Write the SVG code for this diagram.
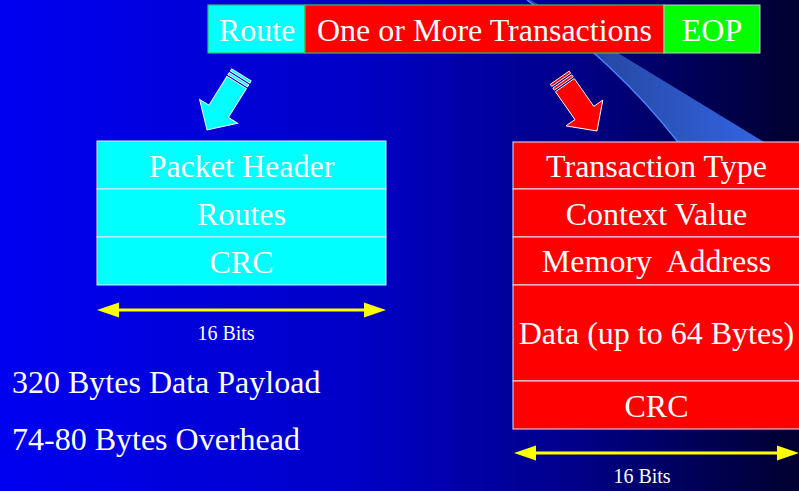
<svg xmlns="http://www.w3.org/2000/svg" width="799" height="491" viewBox="0 0 799 491">
  <defs>
    <linearGradient id="bg" x1="0" y1="0" x2="1" y2="0">
      <stop offset="0" stop-color="#0000f2"/>
      <stop offset="0.45" stop-color="#0000c6"/>
      <stop offset="0.72" stop-color="#000088"/>
      <stop offset="1" stop-color="#00002e"/>
    </linearGradient>
    <linearGradient id="beam" gradientUnits="userSpaceOnUse" x1="590" y1="0" x2="760" y2="0">
      <stop offset="0" stop-color="#2646a0"/>
      <stop offset="1" stop-color="#3264e0"/>
    </linearGradient>
    <g id="blockArrow">
      <path d="M-11.5,-56 L11.5,-56 L11.5,-22 L22.5,-22 L0,0 L-22.5,-22 L-11.5,-22 Z"/>
      <rect x="-11.5" y="-60.5" width="23" height="2.5"/>
      <rect x="-11.5" y="-65" width="23" height="2.5"/>
    </g>
  </defs>
  <style>
    text { font-family: "Liberation Serif", "Times New Roman", serif; fill: #ffffff; }
    .big { font-size: 32px; text-anchor: middle; }
    .left { font-size: 32px; }
    .small { font-size: 20px; text-anchor: middle; }
    .cyan { fill: #00ffff; }
    .red { fill: #ff0000; }
    .green { fill: #00ff00; }
    .cell { stroke: #e6e6ff; stroke-width: 1; }
    .bar { stroke: #3cbf5a; stroke-width: 1.2; }
    .dim { stroke: #ffff00; stroke-width: 3; fill: none; }
    .dimhead { fill: #ffff00; }
    .barrow { stroke: #ffffff; stroke-width: 0.9; }
  </style>

  <rect x="0" y="0" width="799" height="491" fill="url(#bg)"/>

  <g id="beam-shape">
    <path d="M527,0 Q615,62 678,142 L764,142 L531,0 Z" fill="url(#beam)"/>
    <path d="M527,0 Q615,62 678,142" fill="none" stroke="#4a82ff" stroke-width="1.5"/>
  </g>

  <g id="packet-bar">
    <g id="route-field">
      <rect class="cyan bar" x="208" y="5" width="97" height="48"/>
      <text class="big" x="257" y="41">Route</text>
    </g>
    <g id="transactions-field">
      <rect class="red bar" x="305" y="5" width="359" height="48"/>
      <text class="big" x="484.5" y="41">One or More Transactions</text>
    </g>
    <g id="eop-field">
      <rect class="green" x="664" y="5" width="96" height="48" stroke="#c8c8c8" stroke-width="1"/>
      <text class="big" x="712" y="41">EOP</text>
    </g>
  </g>

  <g id="connectors">
    <g class="barrow cyan" transform="translate(207,130) rotate(32)">
      <use href="#blockArrow"/>
    </g>
    <g class="barrow red" transform="translate(597,131) rotate(-35)">
      <use href="#blockArrow"/>
    </g>
    <g id="dim-left">
      <line class="dim" x1="115" y1="310" x2="368" y2="310"/>
      <polygon class="dimhead" points="97,310 119,302.5 119,317.5"/>
      <polygon class="dimhead" points="386,310 364,302.5 364,317.5"/>
    </g>
    <g id="dim-right">
      <line class="dim" x1="532" y1="453" x2="781" y2="453"/>
      <polygon class="dimhead" points="514,453 536,445.5 536,460.5"/>
      <polygon class="dimhead" points="799,453 777,445.5 777,460.5"/>
    </g>
  </g>

  <g id="header-block">
    <g id="packet-header">
      <rect class="cyan cell" x="97" y="141" width="289" height="48"/>
      <text class="big" x="241.5" y="177">Packet Header</text>
    </g>
    <g id="routes">
      <rect class="cyan cell" x="97" y="189" width="289" height="48"/>
      <text class="big" x="241.5" y="225">Routes</text>
    </g>
    <g id="crc-left">
      <rect class="cyan cell" x="97" y="237" width="289" height="48"/>
      <text class="big" x="241.5" y="273">CRC</text>
    </g>
  </g>

  <g id="label-16bits-left">
    <text class="small" x="226" y="340">16 Bits</text>
  </g>

  <g id="transaction-block">
    <g id="transaction-type">
      <rect class="red cell" x="513" y="142" width="290" height="47"/>
      <text class="big" x="656.5" y="177">Transaction Type</text>
    </g>
    <g id="context-value">
      <rect class="red cell" x="513" y="189" width="290" height="48"/>
      <text class="big" x="656.5" y="225">Context Value</text>
    </g>
    <g id="memory-address">
      <rect class="red cell" x="513" y="237" width="290" height="48"/>
      <text class="big" x="656.5" y="272" xml:space="preserve">Memory  Address</text>
    </g>
    <g id="data">
      <rect class="red cell" x="513" y="285" width="290" height="96"/>
      <text class="big" x="656.5" y="344">Data (up to 64 Bytes)</text>
    </g>
    <g id="crc-right">
      <rect class="red cell" x="513" y="381" width="290" height="48"/>
      <text class="big" x="656.5" y="417">CRC</text>
    </g>
  </g>

  <g id="label-16bits-right">
    <text class="small" x="642" y="483">16 Bits</text>
  </g>

  <g id="summary">
    <text class="left" x="12" y="393">320 Bytes Data Payload</text>
    <text class="left" x="12" y="450">74-80 Bytes Overhead</text>
  </g>
</svg>
